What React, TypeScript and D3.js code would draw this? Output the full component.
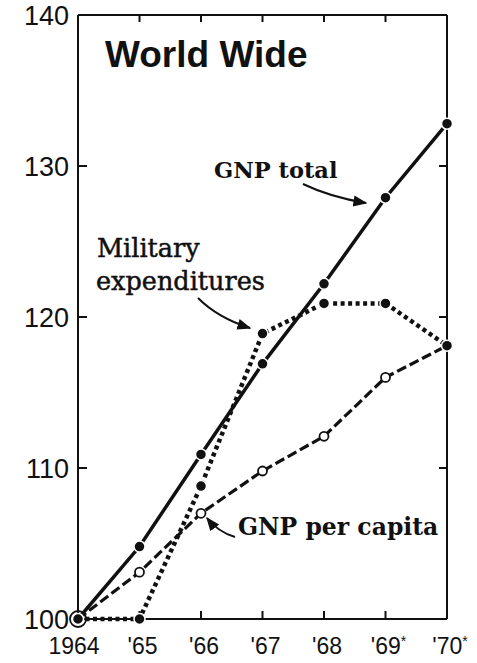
import * as React from 'react';
import * as d3 from 'd3';

const years = [1964, 1965, 1966, 1967, 1968, 1969, 1970];
const yearLabels = ['1964', "'65", "'66", "'67", "'68", "'69", "'70"];
const starred = [false, false, false, false, false, true, true];
const gnpTotal = [100, 104.8, 110.9, 116.9, 122.2, 127.9, 132.8];
const military = [100, 100, 108.8, 118.9, 120.9, 120.9, 118.1];
const perCapita = [100, 103.1, 107.0, 109.8, 112.1, 116.0, 118.1];
const yTicks = [100, 110, 120, 130, 140];

const W = 477;
const H = 663;
const left = 78;
const right = 447;
const top = 15;
const bottom = 619;

const serif = '"DejaVu Serif", serif';
const sans = '"Liberation Sans", Arial, sans-serif';

export default function App() {
    const x = d3.scaleLinear().domain([1964, 1970]).range([left, right]);
    const y = d3.scaleLinear().domain([100, 140]).range([bottom, top]);

    const line = d3.line<[number, number]>()
        .x(d => x(d[0]))
        .y(d => y(d[1]));

    const pts = (vals: number[]) => years.map((yr, i) => [yr, vals[i]] as [number, number]);

    // little curved arrows pointing from labels to the lines
    const arrow = (x0: number, y0: number, cx: number, cy: number, x1: number, y1: number) => {
        const p = d3.path();
        p.moveTo(x0, y0);
        p.quadraticCurveTo(cx, cy, x1, y1);
        return p.toString();
    };

    return (
        <svg width={W} height={H} style={{ position: 'absolute', left: 0, top: 0, background: '#fff' }}>
            <defs>
                <marker id="head" viewBox="0 0 10 10" refX="9" refY="5" markerWidth="7" markerHeight="7" orient="auto">
                    <path d="M0,1 L10,5 L0,9 Z" fill="#111" />
                </marker>
            </defs>

            {/* frame */}
            <g stroke="#111" strokeWidth={2} fill="none">
                <line x1={left} x2={left} y1={top} y2={bottom} />
                <line x1={left} x2={right} y1={bottom} y2={bottom} />
                <line x1={left} x2={right} y1={top} y2={top} />
                <line x1={right} x2={right} y1={top} y2={bottom} />
                {years.slice(1, -1).map(yr => (
                    <g key={yr}>
                        <line x1={x(yr)} x2={x(yr)} y1={bottom} y2={bottom - 8} />
                        <line x1={x(yr)} x2={x(yr)} y1={top} y2={top + 7} />
                    </g>
                ))}
                {yTicks.slice(1, -1).map(v => (
                    <g key={v}>
                        <line x1={left} x2={left + 9} y1={y(v)} y2={y(v)} />
                        <line x1={right} x2={right - 8} y1={y(v)} y2={y(v)} />
                    </g>
                ))}
            </g>

            {/* y labels */}
            {yTicks.map(v => (
                <text key={v} x={left - 9} y={y(v)} dy="0.36em" textAnchor="end"
                    fontFamily={sans} fontSize={27} fill="#111">{v}</text>
            ))}

            {/* x labels */}
            {years.map((yr, i) => (
                <text key={yr} x={x(yr) + (i === 0 ? -4 : 3)} y={654} textAnchor="middle"
                    fontFamily={sans} fontSize={23} fill="#111">
                    {yearLabels[i]}
                    {starred[i] && <tspan dy={-8} fontSize={14}>*</tspan>}
                </text>
            ))}

            {/* GNP per capita, dashed */}
            <path d={line(pts(perCapita)) ?? ''} fill="none" stroke="#111" strokeWidth={3.2}
                strokeDasharray="10 4" />
            {/* military, dotted */}
            <path d={line(pts(military)) ?? ''} fill="none" stroke="#111" strokeWidth={4.5}
                strokeDasharray="4 3.5" />
            {/* GNP total, solid */}
            <path d={line(pts(gnpTotal)) ?? ''} fill="none" stroke="#111" strokeWidth={3.5} />

            {pts(perCapita).slice(1).map(d => (
                <circle key={'p' + d[0]} cx={x(d[0])} cy={y(d[1])} r={4.5} fill="#fff" stroke="#111" strokeWidth={1.8} />
            ))}
            {pts(gnpTotal).map(d => (
                <circle key={'g' + d[0]} cx={x(d[0])} cy={y(d[1])} r={5.5} fill="#111" stroke="#fff" strokeWidth={1.5} />
            ))}
            {pts(military).slice(1).map(d => (
                <circle key={'m' + d[0]} cx={x(d[0])} cy={y(d[1])} r={5.5} fill="#111" stroke="#fff" strokeWidth={1.5} />
            ))}
            {/* shared start point */}
            <circle cx={x(1964)} cy={y(100)} r={8} fill="none" stroke="#111" strokeWidth={1.8} />

            {/* title */}
            <text x={105} y={67} fontFamily={sans} fontWeight="bold" fontSize={37} fill="#111">World Wide</text>

            {/* annotations */}
            <text x={214} y={178} fontFamily={serif} fontWeight="bold" fontSize={22.5} fill="#111">GNP total</text>
            <path d={arrow(303, 184, 330, 197, 366, 203)} fill="none" stroke="#111" strokeWidth={2} markerEnd="url(#head)" />

            <g fontFamily={serif} fontSize={25.5} fill="#111" stroke="#111" strokeWidth={0.5}>
                <text x={97} y={257}>Military</text>
                <text x={96} y={290}>expenditures</text>
            </g>
            <path d={arrow(198, 298, 218, 318, 250, 328)} fill="none" stroke="#111" strokeWidth={2} markerEnd="url(#head)" />

            <text x={238} y={535} fontFamily={serif} fontWeight="bold" fontSize={23.5} fill="#111">GNP per capita</text>
            <path d={arrow(235, 537, 218, 532, 207, 518)} fill="none" stroke="#111" strokeWidth={2} markerEnd="url(#head)" />
        </svg>
    );
}
